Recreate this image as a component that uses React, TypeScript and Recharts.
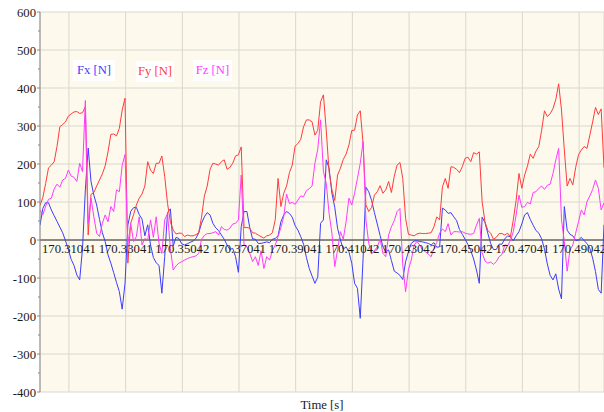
import React from 'react';
import {
  LineChart,
  Line,
  XAxis,
  YAxis,
  CartesianGrid,
  ReferenceLine,
  Legend,
} from 'recharts';

// Sampling of the force record: one sample every millisecond.
const T0 = 170.3002;
const DT = 0.001;

// Force components [N], one value per sample.
const FX = [
  39, 83, 98, 98, 79, 64, 49, 34, 19, -2,
  -25, -51, -67, -92, -105, -22, 132, 242, 154, 118,
  92, 54, 19, -4, -39, -61, -86, -112, -136, -182,
  -114, 39, 75, 85, 86, 67, 55, 11, 40, -13,
  -46, -60, -67, -140, -44, 72, 82, -16, 7, 4,
  -10, -13, -10, -6, -3, 4, 19, 44, 61, 72,
  66, 44, 32, 25, 13, 2, -13, -25, -22, -44,
  -85, 35, 75, 75, 33, 3, 2, -9, -9, -7,
  -5, -7, 2, 4, 11, 48, 66, 75, 70, 60,
  38, 26, 9, -11, -46, -75, -95, -114, -98, 44,
  53, 211, 189, 123, 86, 31, 0, -24, -18, -31,
  -61, -114, -127, -206, -48, 139, 127, 104, 72, 42,
  12, -18, -32, -26, -54, -82, -87, -93, -104, -57,
  -31, -9, -3, -2, -4, -5, -7, -9, -13, -7,
  -19, -18, 84, 79, 70, 72, 61, 51, 28, 15,
  2, -12, -28, -50, -79, -114, 60, 46, 18, -9,
  -25, -25, -11, -11, 3, 11, 8, -2, 11, 22,
  42, 66, 72, 54, 39, 25, 18, 3, -24, -63,
  -93, -105, -89, -129, -155, 88, 26, 15, 11, -1,
  0, 7, -2, -9, -22, -48, -83, -130, -140, 40,
];

const FY = [
  91, 112, 149, 190, 197, 206, 246, 298, 304, 311,
  326, 332, 337, 338, 333, 335, 351, 13, 120, 125,
  142, 158, 174, 195, 232, 278, 279, 274, 294, 342,
  373, -61, 44, 66, 92, 110, 121, 142, 206, 184,
  175, 202, 202, 221, 167, 96, 48, 26, 16, 18,
  18, 9, 13, 11, 11, 14, 19, 60, 116, 142,
  186, 202, 200, 197, 206, 211, 186, 191, 202, 221,
  224, 245, 32, 33, 31, 19, 18, 13, 9, 5,
  11, 13, 19, 53, 162, 88, 123, 142, 177, 197,
  247, 254, 265, 298, 316, 316, 311, 276, 289, 364,
  382, 289, 180, 132, 104, 171, 189, 212, 226, 250,
  288, 289, 329, 340, 254, 92, 75, 86, 118, 127,
  143, 123, 132, 154, 125, 168, 197, 204, 162, 57,
  15, 13, 11, 16, 18, 17, 17, 18, 19, 35,
  61, 53, 140, 162, 136, 193, 191, 186, 177, 193,
  215, 218, 206, 230, 226, 232, 101, 48, 25, 18,
  2, 7, 17, 17, 13, 18, 9, 53, 105, 175,
  136, 171, 195, 226, 215, 234, 246, 289, 340, 325,
  332, 346, 370, 411, 342, 237, 142, 162, 145, 191,
  224, 237, 246, 241, 276, 311, 349, 330, 345, 190,
];

const FZ = [
  79, 66, 89, 107, 110, 134, 147, 139, 158, 162,
  184, 168, 165, 154, 202, 180, 367, 44, 110, 61,
  18, 9, 44, 66, 48, 88, 75, 132, 127, 197,
  225, -13, 44, -4, 9, 61, -13, 4, 0, 53,
  7, 61, -9, -35, 53, 70, -22, -79, -68, -61,
  -57, -53, -49, -46, -44, -42, -35, 2, 12, 17,
  17, 19, 22, 13, 35, 28, 26, 31, 42, 44,
  53, 171, -13, -18, -35, -57, -44, -67, -28, -75,
  -44, -53, -28, -13, 9, 33, 61, 121, 96, 99,
  94, 105, 116, 114, 130, 135, 142, 202, 239, 316,
  180, 149, 70, 18, -70, -26, 22, 2, 48, 110,
  92, 123, 162, 202, 259, 53, -9, -37, -28, -18,
  2, -35, -44, 13, 35, 51, 75, 83, -66, -136,
  -77, -53, -13, -4, -13, -26, -31, -37, -44, -22,
  -6, 18, 29, 22, 43, 13, 22, 22, 21, 22,
  18, 16, 15, 17, 39, 57, -33, -55, -61, -58,
  -64, -57, -44, -38, -13, -15, -1, 22, 66, 118,
  86, 88, 99, 95, 125, 127, 136, 142, 133, 144,
  147, 175, 211, 241, 53, -4, -82, -26, -13, 18,
  48, 79, 66, 101, 116, 133, 158, 136, 79, 98,
];

// Axis definitions.
const X_MIN = 170.3002;
const X_MAX = 170.4992;
const X_TICKS = [
  170.31041, 170.33041, 170.35042, 170.37041, 170.39041,
  170.41042, 170.43042, 170.45042, 170.47041, 170.49042,
];
const Y_MIN = -400;
const Y_MAX = 600;
const Y_TICKS = [
  -400, -350, -300, -250, -200, -150, -100, -50, 0, 50, 100, 150,
  200, 250, 300, 350, 400, 450, 500, 550, 600,
];
const Y_GRID = [-400, -300, -200, -100, 0, 100, 200, 300, 400, 500, 600];

const SERIES = [
  { key: 'fx', name: 'Fx [N]', color: '#3c3cff' },
  { key: 'fy', name: 'Fy [N]', color: '#ff3c3c' },
  { key: 'fz', name: 'Fz [N]', color: '#ff3cff' },
];

const rows = FX.map((fx, i) => ({
  t: +(T0 + i * DT).toFixed(4),
  fx,
  fy: FY[i],
  fz: FZ[i],
}));

// Chart geometry.
const W = 604;
const H = 412;
const TOP = 12;
const X_AXIS_H = 20;
const Y_AXIS_W = 40;
const PLOT_H = H - TOP - X_AXIS_H;
// vertical position of the value 0, where the time labels hang
const ZERO_Y = TOP + (PLOT_H * Y_MAX) / (Y_MAX - Y_MIN);

const FONT = '"Liberation Serif", "Times New Roman", serif';
const FS = 12.7;

const TimeTick = (props: any) => {
  const { x, payload } = props;
  return (
    <text
      x={x}
      y={ZERO_Y + 13}
      textAnchor="middle"
      fill="#1a1a1a"
      fontSize={FS}
      fontFamily={FONT}
    >
      {Number(payload.value).toFixed(5)}
    </text>
  );
};

const ForceTick = (props: any) => {
  const { x, y, payload } = props;
  const major = payload.value % 100 === 0;
  return (
    <g>
      <line x1={x - (major ? 3 : 2)} x2={x} y1={y} y2={y} stroke="#8a8a8a" />
      {major && (
        <text
          x={x - 4}
          y={y + 4.5}
          textAnchor="end"
          fill="#1a1a1a"
          fontSize={FS}
          fontFamily={FONT}
        >
          {payload.value}
        </text>
      )}
    </g>
  );
};

const LEGEND_BOXES = [
  { left: 0, top: 0, width: 42 },
  { left: 63, top: 1, width: 38 },
  { left: 120, top: 0, width: 39 },
];

const SeriesLegend = () => (
  <div style={{ position: 'relative', width: 160, height: 22 }}>
    {SERIES.map((s, i) => (
      <div
        key={s.key}
        style={{
          position: 'absolute',
          left: LEGEND_BOXES[i].left,
          top: LEGEND_BOXES[i].top,
          width: LEGEND_BOXES[i].width,
          height: 21,
          lineHeight: '21px',
          background: '#ffffff',
          color: s.color,
          fontFamily: FONT,
          fontSize: FS,
          textAlign: 'center',
          whiteSpace: 'nowrap',
        }}
      >
        {s.name}
      </div>
    ))}
  </div>
);

export default function App() {
  return (
    <div
      style={{
        position: 'absolute',
        left: 0,
        top: 0,
        width: W,
        height: H,
        overflow: 'hidden',
        background: '#ffffff',
        fontFamily: FONT,
      }}
    >
      <LineChart
        width={W}
        height={H}
        data={rows}
        margin={{ top: TOP, right: 0, bottom: 0, left: 0 }}
      >
        <CartesianGrid
          stroke="#d9d7cf"
          fill="#fdf9ec"
          horizontalValues={Y_GRID}
        />
        <XAxis
          dataKey="t"
          type="number"
          domain={[X_MIN, X_MAX]}
          ticks={X_TICKS}
          interval={0}
          allowDataOverflow
          height={X_AXIS_H}
          axisLine={false}
          tickLine={false}
          tick={<TimeTick />}
          label={{
            value: 'Time [s]',
            position: 'insideBottom',
            offset: 3,
            fill: '#1a1a1a',
            fontSize: FS,
            fontFamily: FONT,
          }}
        />
        <YAxis
          type="number"
          domain={[Y_MIN, Y_MAX]}
          ticks={Y_TICKS}
          interval={0}
          width={Y_AXIS_W}
          tickSize={0}
          tickMargin={0}
          tickLine={false}
          axisLine={{ stroke: '#8a8a8a' }}
          tick={<ForceTick />}
        />
        <ReferenceLine y={0} stroke="#2a2a2a" strokeWidth={1} />
        <Legend
          layout="horizontal"
          verticalAlign="middle"
          align="center"
          content={<SeriesLegend />}
          wrapperStyle={{ position: 'absolute', left: 73, top: 60, width: 160, height: 22 }}
        />
        {SERIES.map((s) => (
          <Line
            key={s.key}
            type="linear"
            dataKey={s.key}
            name={s.name}
            stroke={s.color}
            strokeWidth={1}
            dot={false}
            activeDot={false}
            isAnimationActive={false}
          />
        ))}
      </LineChart>
    </div>
  );
}
